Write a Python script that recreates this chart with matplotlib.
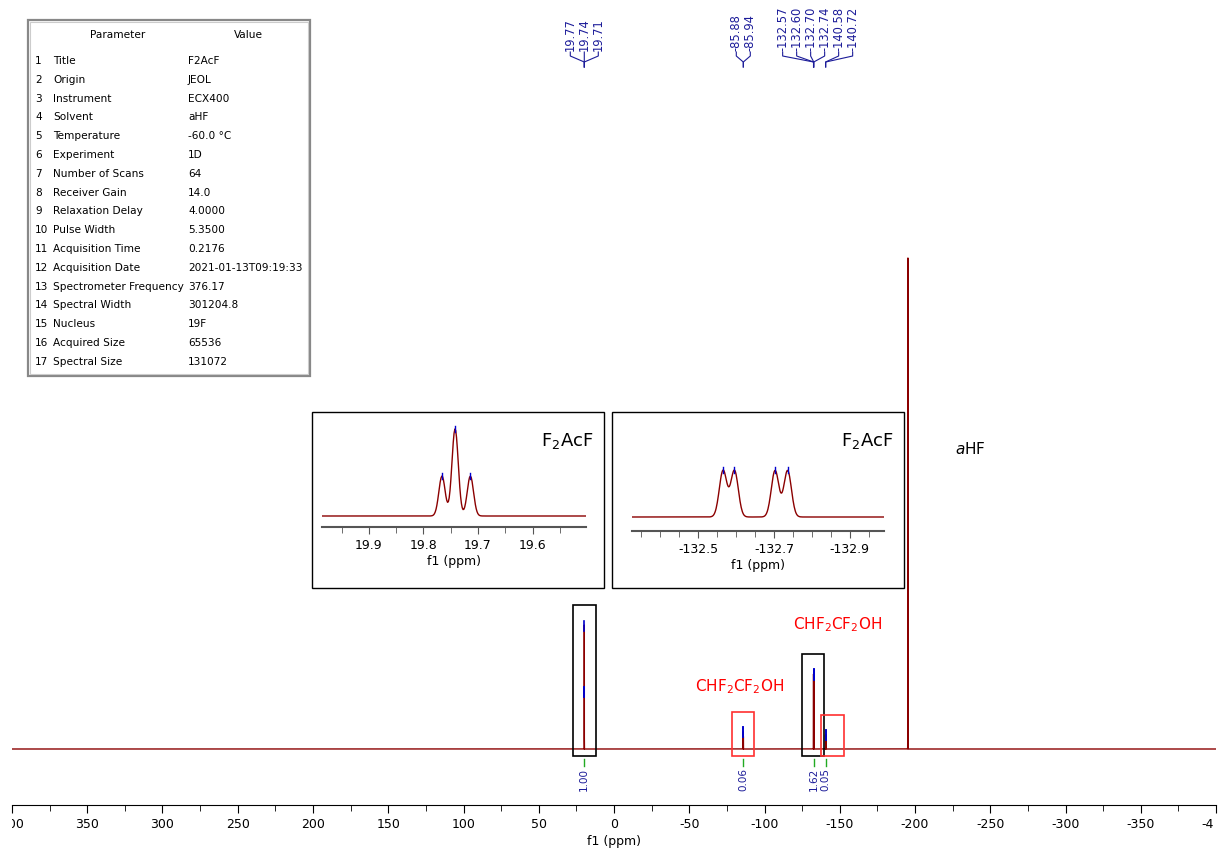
import numpy as np
import matplotlib.pyplot as plt
from matplotlib.patches import Rectangle
from matplotlib.lines import Line2D
from matplotlib.transforms import Bbox, TransformedBbox
from matplotlib.ticker import MultipleLocator, FixedLocator, FormatStrFormatter

plt.rcParams['font.family'] = 'DejaVu Sans'
plt.rcParams['axes.unicode_minus'] = False

# acquisition parameters
param_names = ['Title', 'Origin', 'Instrument', 'Solvent', 'Temperature', 'Experiment',
               'Number of Scans', 'Receiver Gain', 'Relaxation Delay', 'Pulse Width',
               'Acquisition Time', 'Acquisition Date', 'Spectrometer Frequency',
               'Spectral Width', 'Nucleus', 'Acquired Size', 'Spectral Size']
param_values = ['F2AcF', 'JEOL', 'ECX400', 'aHF', '-60.0 °C', '1D', '64', '14.0', '4.0000',
                '5.3500', '0.2176', '2021-01-13T09:19:33', '376.17', '301204.8', '19F',
                '65536', '131072']

# picked peaks (ppm), height (aHF = 100), gaussian width (ppm)
peak_ppm = [19.766, 19.742, 19.714, -85.88, -85.94,
            -132.566, -132.596, -132.703, -132.736, -140.58, -140.72]
peak_height = [11.6, 25.3, 11.6, 3.5, 3.5, 15.1, 15.1, 15.1, 15.1, 2.9, 2.9]
peak_width = [0.0058, 0.0058, 0.0058, 0.01, 0.01, 0.01, 0.01, 0.01, 0.01, 0.01, 0.01]

# solvent line (not picked)
solvent_ppm = -195.3
solvent_height = 100.0
solvent_width = 0.05

# integral regions
integral_from = [27.2, -78.4, -124.9, -137.5]
integral_to = [12.0, -93.0, -139.5, -152.8]
integral_value = [1.00, 0.06, 1.62, 0.05]
box_colors = ['black', '#ff3030', 'black', '#ff3030']

W, H = 1221, 851
RED = '#8b0000'
NAVY = '#1c1c99'


def fx(x):
    return x / W


def fy(y):
    return 1 - y / H


# build spectrum
ppm = np.linspace(400.4, -400.4, 533601)
spec = np.zeros_like(ppm)
for p, h, w in zip(peak_ppm + [solvent_ppm], peak_height + [solvent_height],
                   peak_width + [solvent_width]):
    m = np.abs(ppm - p) < 40 * w
    spec[m] += h * np.exp(-(ppm[m] - p) ** 2 / (2 * w ** 2))

fig = plt.figure(figsize=(W / 100, H / 100), dpi=100)

# ---- main spectrum ----
ax = fig.add_axes([fx(12), fy(805), fx(1216) - fx(12), 805 / H])
px_per_unit = 491 / solvent_height
ybot = -56 / px_per_unit
ax.set_ylim(ybot, ybot + 805 / px_per_unit)
ax.set_xlim(400, -400)
ax.plot(ppm, spec, color=RED, lw=1)
for s in ['top', 'left', 'right']:
    ax.spines[s].set_visible(False)
ax.set_yticks([])
ax.xaxis.set_major_locator(MultipleLocator(50))
ax.xaxis.set_minor_locator(MultipleLocator(25))
ax.xaxis.set_major_formatter(FormatStrFormatter('%d'))
ax.tick_params(axis='x', which='major', length=6, labelsize=9)
ax.tick_params(axis='x', which='minor', length=4)
ax.set_xlabel('f1 (ppm)', fontsize=9, labelpad=3)


def pick_marks(a, lo, hi, half, lw):
    for p in peak_ppm:
        if min(lo, hi) <= p <= max(lo, hi):
            yv = np.interp(p, ppm[::-1], spec[::-1])
            a.plot([p, p], [yv - half, yv + half], color='#0000cc', lw=lw, zorder=3)


pick_marks(ax, 400, -400, 5 / px_per_unit, 1.2)

# integral boxes and values
for a0, a1, val, col in zip(integral_from, integral_to, integral_value, box_colors):
    m = (ppm <= a0) & (ppm >= a1)
    top = spec[m].max() + 4.0
    at = ppm[m][np.argmax(spec[m])]
    ax.add_patch(Rectangle((a1, -7 / px_per_unit), a0 - a1, top + 7 / px_per_unit,
                           fill=False, edgecolor=col, lw=1.2, zorder=4))
    xd = ax.transData.transform((at, 0))[0]
    fig.add_artist(Line2D([fx(xd), fx(xd)], [fy(759), fy(766)], color='#22aa22', lw=1))
    fig.text(fx(xd), fy(768), f'{val:.2f}', rotation=90, ha='center', va='top',
             fontsize=7.5, color=NAVY)

# compound labels
ax.text(-83.7, 12.8, 'CHF$_2$CF$_2$OH', color='red', fontsize=11, ha='center', va='center')
ax.text(-148.8, 25.3, 'CHF$_2$CF$_2$OH', color='red', fontsize=11, ha='center', va='center')
ax.text(-236.5, 61.1, '$\\mathit{a}$HF', color='black', fontsize=11, ha='center',
        va='center')

# ---- peak labels on top ----
pk_px = [ax.transData.transform((p, 0))[0] for p in peak_ppm]
order = np.argsort(pk_px)
groups = [[order[0]]]
for i in order[1:]:
    if pk_px[i] - pk_px[groups[-1][-1]] < 14:
        groups[-1].append(i)
    else:
        groups.append([i])
for g in groups:
    cx = np.mean([pk_px[i] for i in g])
    for k, i in enumerate(g):
        lx = cx + (k - (len(g) - 1) / 2) * 14
        fig.text(fx(lx), fy(51), f'{peak_ppm[i]:.2f}', rotation=90, ha='center',
                 va='bottom', fontsize=8.3, color=NAVY)
        fig.add_artist(Line2D([fx(lx), fx(lx), fx(pk_px[i]), fx(pk_px[i])],
                              [fy(52), fy(56), fy(62), fy(67)], color=NAVY, lw=0.8))

# ---- parameter table ----
fig.add_artist(Rectangle((fx(28), fy(376)), fx(310) - fx(28), (376 - 20) / H,
                         transform=fig.transFigure, fill=False, edgecolor='#888888', lw=1.6))
fig.add_artist(Rectangle((fx(30), fy(374)), fx(308) - fx(30), (374 - 22) / H,
                         transform=fig.transFigure, fill=False, edgecolor='#cccccc', lw=0.8))
fig.text(fx(118), fy(35), 'Parameter', ha='center', va='center', fontsize=7.6)
fig.text(fx(248), fy(35), 'Value', ha='center', va='center', fontsize=7.6)
for i, (n, v) in enumerate(zip(param_names, param_values)):
    yy = 61 + i * 18.8
    fig.text(fx(35), fy(yy), str(i + 1), ha='left', va='center', fontsize=7.6)
    fig.text(fx(53), fy(yy), n, ha='left', va='center', fontsize=7.6)
    fig.text(fx(188), fy(yy), v, ha='left', va='center', fontsize=7.6)


# ---- insets ----
def inset(box, area, xlim, base_px, peak_px, ticks, minor, label_y):
    x0, y0, x1, y1 = box
    fig.add_artist(Rectangle((fx(x0), fy(y1)), fx(x1) - fx(x0), (y1 - y0) / H,
                             transform=fig.transFigure, fill=False, edgecolor='black',
                             lw=1))
    ax0, ay0, ax1, ay1 = area
    ia = fig.add_axes([fx(ax0), fy(ay1), fx(ax1) - fx(ax0), (ay1 - ay0) / H])
    m = (ppm <= xlim[0]) & (ppm >= xlim[1])
    scale = peak_px / spec[m].max()
    lo = -base_px / scale
    ia.set_ylim(lo, lo + (ay1 - ay0) / scale)
    ia.set_xlim(*xlim)
    ia.plot(ppm[m], spec[m], color=RED, lw=1)
    pick_marks(ia, xlim[0], xlim[1], 3 / scale, 1.0)
    for s in ['top', 'left', 'right']:
        ia.spines[s].set_visible(False)
    ia.spines['bottom'].set_color('#555555')
    ia.spines['bottom'].set_linewidth(1.5)
    ia.set_yticks([])
    ia.xaxis.set_major_locator(FixedLocator(ticks))
    ia.xaxis.set_minor_locator(MultipleLocator(minor))
    ia.xaxis.set_major_formatter(FormatStrFormatter('%.1f'))
    ia.tick_params(axis='x', which='major', length=5, labelsize=9, color='#555555')
    ia.tick_params(axis='x', which='minor', length=4, color='#555555')
    ia.set_xlabel('f1 (ppm)', fontsize=9, labelpad=2)
    ia.patch.set_alpha(0)
    fig.text(fx(x1 - 11), fy(label_y), 'F$_2$AcF', ha='right', va='center', fontsize=13)
    return ia


inset((312, 412, 604, 588), (322, 420, 586, 527), (19.986, 19.502), 11, 87,
      [19.9, 19.8, 19.7, 19.6], 0.05, 441)
inset((612, 412, 904, 588), (632, 425, 884, 531), (-132.326, -132.99), 14, 47,
      [-132.5, -132.7, -132.9], 0.05, 441)

# the main scale labels are cut at the plot edges
fig.canvas.draw()
edge = TransformedBbox(Bbox([[fx(12), 0], [fx(1214), 1]]), fig.transFigure)
for t in ax.get_xticklabels():
    t.set_clip_box(edge)
    t.set_clip_on(True)

fig.savefig('out.png', dpi=100)
